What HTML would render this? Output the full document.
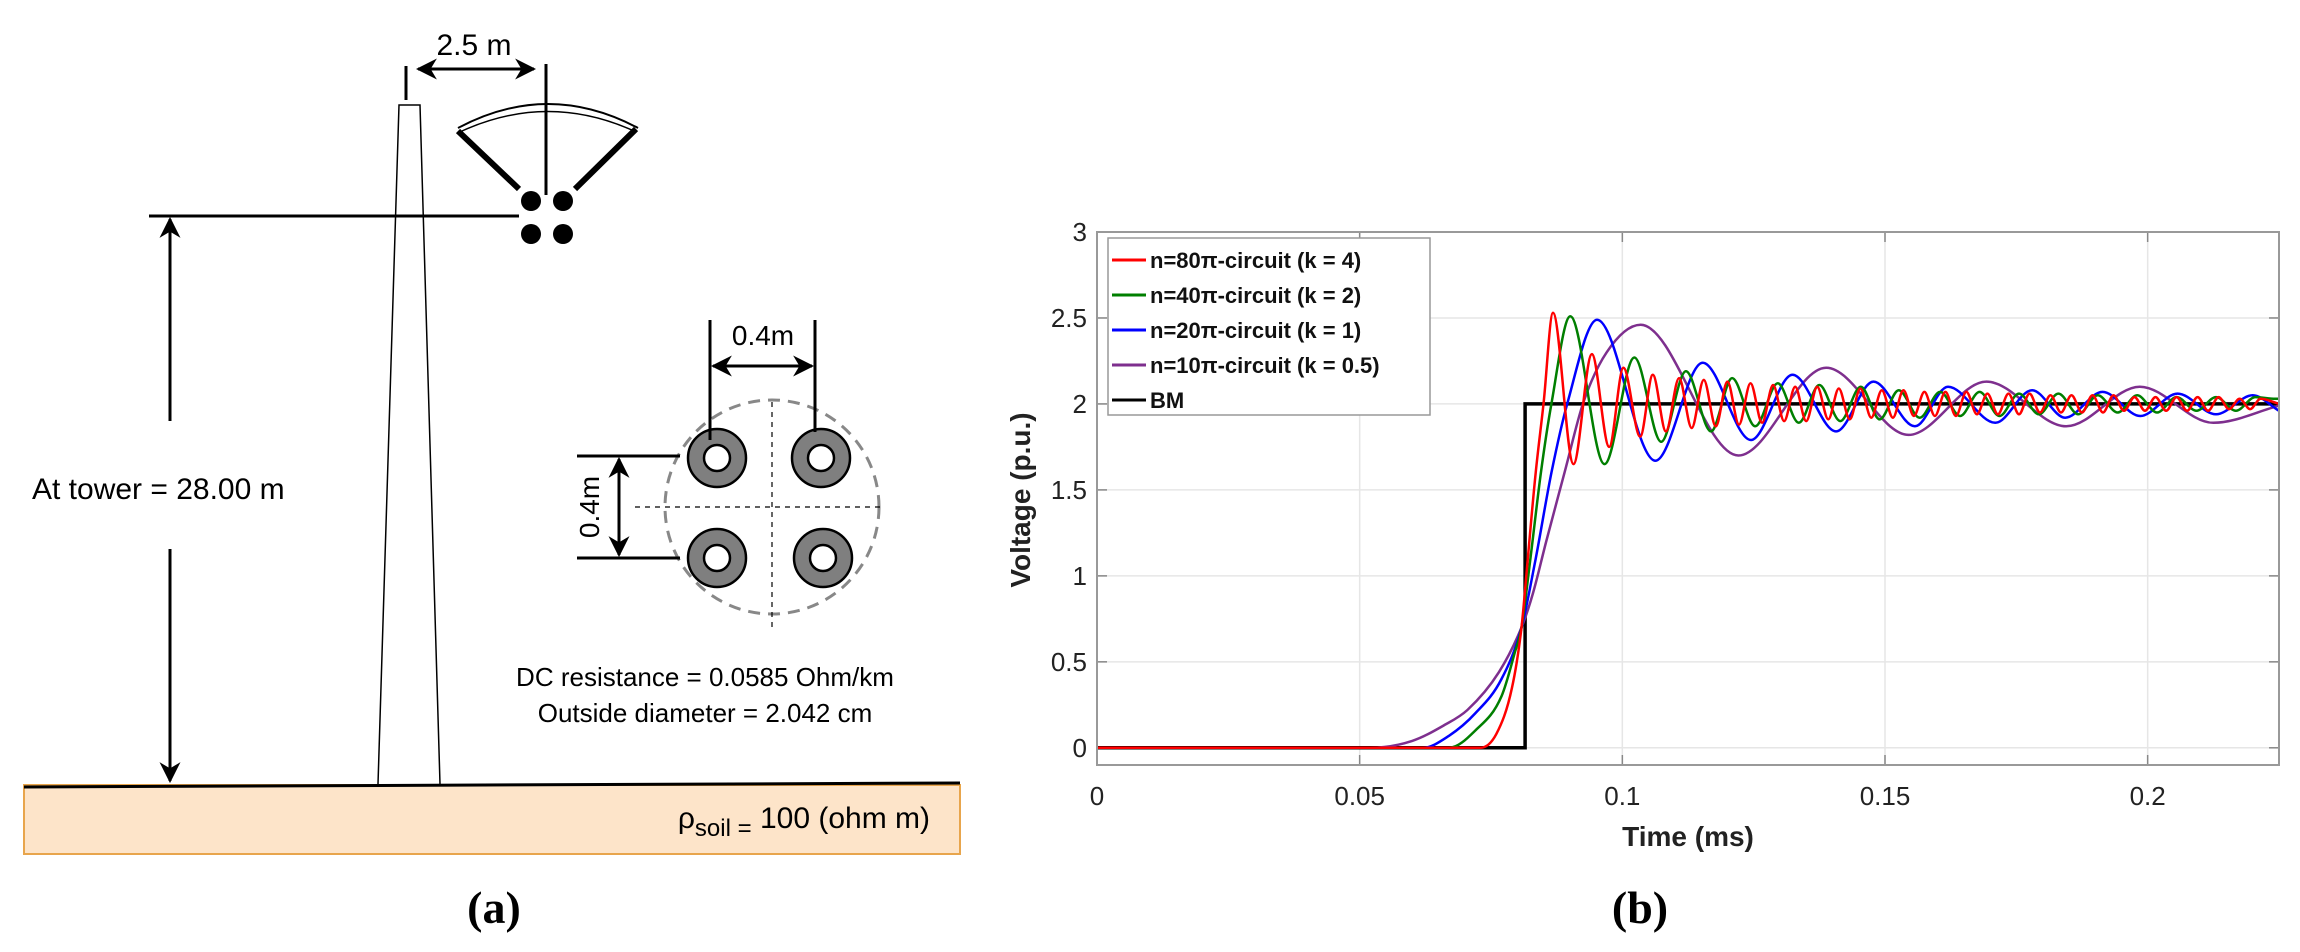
<!DOCTYPE html>
<html><head><meta charset="utf-8"><style>
html,body{margin:0;padding:0;background:#fff;}
svg{display:block;font-family:"Liberation Sans",sans-serif;}
</style></head><body>
<svg id="fig" width="2300" height="952" viewBox="0 0 2300 952">
<defs>
<marker id="ah" viewBox="0 0 10 10" refX="9" refY="5" markerWidth="7" markerHeight="7" orient="auto-start-reverse"><path d="M0,0 L10,5 L0,10 L3,5 z" fill="#000"/></marker>
</defs>
<g>
 <rect x="24" y="785" width="936" height="69" fill="#fde4c9" stroke="#e8a54c" stroke-width="2"/>
 <line x1="24" y1="787" x2="960" y2="783" stroke="#000" stroke-width="3"/>
 <text x="930" y="828" text-anchor="end" font-size="30">ρ<tspan font-size="24" dy="8">soil =</tspan><tspan dy="-8"> 100 (ohm m)</tspan></text>
 <path d="M378,784 L399,105 L420,105 L440,784" fill="none" stroke="#000" stroke-width="1.5"/>
 <line x1="406" y1="66" x2="406" y2="100" stroke="#000" stroke-width="3"/>
 <line x1="546" y1="64" x2="546" y2="195" stroke="#000" stroke-width="3"/>
 <line x1="418" y1="69" x2="534" y2="69" stroke="#000" stroke-width="3" marker-start="url(#ah)" marker-end="url(#ah)"/>
 <text x="474" y="55" text-anchor="middle" font-size="30">2.5 m</text>
 <path d="M458,128 Q548,80 638,128" fill="none" stroke="#000" stroke-width="2"/>
 <path d="M462,131 Q548,92 634,131" fill="none" stroke="#000" stroke-width="1.5"/>
 <line x1="458" y1="131" x2="519" y2="189" stroke="#000" stroke-width="6"/>
 <line x1="636" y1="129" x2="575" y2="189" stroke="#000" stroke-width="6"/>
 <g fill="#000">
  <circle cx="531" cy="201" r="10"/><circle cx="563" cy="201" r="10"/><circle cx="531" cy="234" r="10"/><circle cx="563" cy="234" r="10"/>
 </g>
 <line x1="149" y1="216" x2="519" y2="216" stroke="#000" stroke-width="3"/>
 <line x1="170" y1="421" x2="170" y2="219" stroke="#000" stroke-width="3" marker-end="url(#ah)"/>
 <line x1="170" y1="549" x2="170" y2="781" stroke="#000" stroke-width="3" marker-end="url(#ah)"/>
 <text x="32" y="499" font-size="30">At tower = 28.00 m</text>
 <circle cx="772" cy="507" r="107" fill="none" stroke="#888" stroke-width="3" stroke-dasharray="12,8"/>
 <line x1="772" y1="402" x2="772" y2="632" stroke="#000" stroke-width="1.2" stroke-dasharray="5,5"/>
 <line x1="635" y1="507" x2="880" y2="507" stroke="#000" stroke-width="1.2" stroke-dasharray="5,5"/>
 <g fill="#7f7f7f" stroke="#000" stroke-width="2.5">
  <circle cx="717" cy="458" r="29"/><circle cx="821" cy="458" r="29"/><circle cx="717" cy="558" r="29"/><circle cx="823" cy="558" r="29"/>
 </g>
 <g fill="#fff" stroke="#000" stroke-width="2.5">
  <circle cx="717" cy="458" r="13"/><circle cx="821" cy="458" r="13"/><circle cx="717" cy="558" r="13"/><circle cx="823" cy="558" r="13"/>
 </g>
 <line x1="710" y1="320" x2="710" y2="440" stroke="#000" stroke-width="3"/>
 <line x1="815" y1="320" x2="815" y2="432" stroke="#000" stroke-width="3"/>
 <line x1="713" y1="366" x2="812" y2="366" stroke="#000" stroke-width="3" marker-start="url(#ah)" marker-end="url(#ah)"/>
 <text x="763" y="345" text-anchor="middle" font-size="28">0.4m</text>
 <line x1="577" y1="456" x2="680" y2="456" stroke="#000" stroke-width="3"/>
 <line x1="577" y1="558" x2="680" y2="558" stroke="#000" stroke-width="3"/>
 <line x1="619" y1="459" x2="619" y2="555" stroke="#000" stroke-width="3" marker-start="url(#ah)" marker-end="url(#ah)"/>
 <text transform="translate(599,507) rotate(-90)" text-anchor="middle" font-size="28">0.4m</text>
 <text x="705" y="686" text-anchor="middle" font-size="26">DC resistance = 0.0585 Ohm/km</text>
 <text x="705" y="722" text-anchor="middle" font-size="26">Outside diameter = 2.042 cm</text>
 <text x="494" y="923" text-anchor="middle" font-size="46" font-weight="bold" font-family="Liberation Serif, serif">(a)</text>
</g>
<g id="chart"></g>
<text x="1640" y="923" text-anchor="middle" font-size="46" font-weight="bold" font-family="Liberation Serif, serif">(b)</text>
</svg>
<script>
const xTicks = [0, 0.05, 0.1, 0.15, 0.2];
const xTickLabels = ["0", "0.05", "0.1", "0.15", "0.2"];
const yTicks = [0, 0.5, 1, 1.5, 2, 2.5, 3];
const yTickLabels = ["0", "0.5", "1", "1.5", "2", "2.5", "3"];
const seriesNames = ["n=80\u03c0-circuit (k = 4)", "n=40\u03c0-circuit (k = 2)", "n=20\u03c0-circuit (k = 1)", "n=10\u03c0-circuit (k = 0.5)", "BM"];
const seriesColors = ["#ff0000", "#007f00", "#0000ff", "#7e2f8e", "#000000"];
const redPts = [[0,0],[.073,0],[.076,.08],[.079,.35],[.0808,.7],[.082,1.1],[.0835,1.6],[.085,2.0],[.0868,2.53],[.0907,1.65],[.0942,2.29],[.0975,1.75],[.1002,2.21],[.1034,1.81],[.1058,2.17],[.1083,1.84],[.1108,2.15],[.1132,1.86],[.1155,2.14],[.1178,1.87],[.12,2.13],[.1222,1.88],[.1244,2.12],[.1266,1.89],[.1287,2.11],[.1308,1.9],[.1329,2.1],[.135,1.9],[.1371,2.1],[.1392,1.91],[.1412,2.09],[.1433,1.91],[.1453,2.09],[.1474,1.92],[.1494,2.08],[.1515,1.92],[.1535,2.08],[.1555,1.93],[.1575,2.07],[.1595,1.93],[.1615,2.07],[.1635,1.93],[.1655,2.07],[.1675,1.94],[.1695,2.06],[.1715,1.94],[.1735,2.06],[.1755,1.94],[.1775,2.06],[.1795,1.95],[.1815,2.05],[.1835,1.95],[.1855,2.05],[.1875,1.95],[.1895,2.05],[.1915,1.95],[.1935,2.05],[.1955,1.96],[.1975,2.04],[.1995,1.96],[.2015,2.04],[.2035,1.96],[.2055,2.04],[.2075,1.96],[.2095,2.04],[.2115,1.96],[.2135,2.04],[.2155,1.97],[.2175,2.03],[.2195,1.97],[.2215,2.03],[.225,2.0]];
const greenPts = [[0,0],[.067,0],[.072,.1],[.077,.3],[.0795,.55],[.0808,.7],[.0825,1.1],[.0845,1.6],[.0865,2.0],[.0901,2.51],[.0966,1.65],[.1023,2.27],[.1074,1.78],[.1121,2.19],[.1169,1.84],[.1209,2.15],[.1253,1.87],[.1296,2.12],[.1336,1.89],[.1375,2.11],[.1415,1.9],[.1454,2.1],[.149,1.91],[.1526,2.08],[.1566,1.92],[.1605,2.07],[.1643,1.93],[.168,2.07],[.1718,1.93],[.1755,2.06],[.1793,1.94],[.183,2.06],[.1868,1.94],[.1905,2.05],[.1943,1.95],[.198,2.05],[.2018,1.95],[.2055,2.04],[.2093,1.96],[.213,2.04],[.2168,1.96],[.2205,2.04],[.2243,2.03],[.225,2.03]];
const bluePts = [[0,0],[.062,0],[.067,.07],[.072,.2],[.077,.4],[.0808,.7],[.0835,1.1],[.0865,1.6],[.0895,2.0],[.0952,2.49],[.1063,1.67],[.1153,2.24],[.1245,1.79],[.1324,2.17],[.1407,1.84],[.1478,2.13],[.1557,1.87],[.162,2.1],[.171,1.89],[.178,2.08],[.1843,1.92],[.1914,2.07],[.1986,1.93],[.2057,2.06],[.213,1.94],[.22,2.05],[.225,1.96]];
const purplePts = [[0,0],[.052,0],[.06,.04],[.066,.13],[.0705,.22],[.0765,.44],[.0808,.7],[.083,.9],[.0855,1.2],[.089,1.6],[.0925,2.0],[.097,2.3],[.1035,2.46],[.1221,1.7],[.1388,2.21],[.1545,1.82],[.1693,2.13],[.1845,1.87],[.1985,2.1],[.2125,1.89],[.225,1.99]];
const bmPts = [[0,0],[.0815,0],[.0815,2],[.225,2]];

const NS = "http://www.w3.org/2000/svg";
const L = 1097, R = 2279, T = 232, B = 765;
const xMin = 0, xMax = 0.225, yMin = -0.1, yMax = 3;
function xs(t){ return L + (t - xMin) / (xMax - xMin) * (R - L); }
function ys(v){ return B - (v - yMin) / (yMax - yMin) * (B - T); }
const chart = document.getElementById('chart');
function mk(tag, attrs, parent){ const e = document.createElementNS(NS, tag); for (const k in attrs) e.setAttribute(k, attrs[k]); (parent||chart).appendChild(e); return e; }

mk('rect', {x:L, y:T, width:R-L, height:B-T, fill:'#fff'});
xTicks.forEach((t,i) => {
  const g = mk('line', {x1:xs(t), y1:T, x2:xs(t), y2:B, stroke:'#e6e6e6', 'stroke-width':1.5});
  
  
  mk('line', {x1:xs(t), y1:B, x2:xs(t), y2:B-10, stroke:'#888', 'stroke-width':1.5});
  mk('line', {x1:xs(t), y1:T, x2:xs(t), y2:T+10, stroke:'#888', 'stroke-width':1.5});
  const lb = mk('text', {x:xs(t), y:805, 'text-anchor':'middle', 'font-size':26, fill:'#222'});
  lb.textContent = xTickLabels[i];
  
  
});
yTicks.forEach((v,i) => {
  const g = mk('line', {x1:L, y1:ys(v), x2:R, y2:ys(v), stroke:'#e6e6e6', 'stroke-width':1.5});
  
  
  mk('line', {x1:L, y1:ys(v), x2:L+10, y2:ys(v), stroke:'#888', 'stroke-width':1.5});
  mk('line', {x1:R, y1:ys(v), x2:R-10, y2:ys(v), stroke:'#888', 'stroke-width':1.5});
  const lb = mk('text', {x:1087, y:ys(v)+9, 'text-anchor':'end', 'font-size':26, fill:'#222'});
  lb.textContent = yTickLabels[i];
  
  
});

function monoPath(pts){
  const P = pts.map(p => [xs(p[0]), ys(p[1])]);
  const n = P.length; const d = [], m = new Array(n).fill(0);
  for (let i=0;i<n-1;i++){ const h = P[i+1][0]-P[i][0]; d.push(h===0?0:(P[i+1][1]-P[i][1])/h); }
  for (let i=1;i<n-1;i++){ m[i] = (d[i-1]*d[i] <= 0) ? 0 : (d[i-1]+d[i])/2; }
  m[0] = d[0]; m[n-1] = d[n-2];
  for (let i=0;i<n-1;i++){ if (d[i]===0){ m[i]=0; m[i+1]=0; continue; } const a=m[i]/d[i], b=m[i+1]/d[i], s=a*a+b*b; if (s>9){ const tt=3/Math.sqrt(s); m[i]=tt*a*d[i]; m[i+1]=tt*b*d[i]; } }
  let s = 'M' + P[0][0].toFixed(1) + ',' + P[0][1].toFixed(1);
  for (let i=0;i<n-1;i++){ const h=(P[i+1][0]-P[i][0])/3;
    if (h===0){ s += ' L' + P[i+1][0].toFixed(1) + ',' + P[i+1][1].toFixed(1); continue; }
    s += ' C' + (P[i][0]+h).toFixed(1) + ',' + (P[i][1]+m[i]*h).toFixed(1) + ' ' + (P[i+1][0]-h).toFixed(1) + ',' + (P[i+1][1]-m[i+1]*h).toFixed(1) + ' ' + P[i+1][0].toFixed(1) + ',' + P[i+1][1].toFixed(1); }
  return s;
}
const bm = mk('path', {d: bmPts.map((p,i)=>(i?'L':'M')+xs(p[0]).toFixed(1)+','+ys(p[1]).toFixed(1)).join(' '), fill:'none', stroke:'#000', 'stroke-width':3.5});


const allPts = [redPts, greenPts, bluePts, purplePts];
const seriesKeys = ['series-red-k4', 'series-green-k2', 'series-blue-k1', 'series-purple-k05'];
[3,2,1,0].forEach(i => {
  const p = mk('path', {d: monoPath(allPts[i]), fill:'none', stroke:seriesColors[i], 'stroke-width':2.5, 'stroke-linejoin':'round'});
  
  
});
mk('rect', {x:L, y:T, width:R-L, height:B-T, fill:'none', stroke:'#999', 'stroke-width':2});

const leg = mk('g', {});


mk('rect', {x:1108, y:238, width:322, height:177, fill:'#fff', stroke:'#999', 'stroke-width':1.5}, leg);
seriesNames.forEach((nm,i) => {
  const y = 260 + i*35;
  const e = mk('g', {}, leg);
  
  
  mk('line', {x1:1112, y1:y, x2:1146, y2:y, stroke:seriesColors[i], 'stroke-width':3}, e);
  const t = mk('text', {x:1150, y:y+8, 'font-size':22, 'font-weight':'bold', fill:'#111'}, e);
  t.textContent = nm;
});
const xt = mk('text', {x:1688, y:846, 'text-anchor':'middle', 'font-size':28, 'font-weight':'bold', fill:'#222'});
xt.textContent = 'Time (ms)';


const yt = mk('text', {transform:'translate(1030,500) rotate(-90)', 'text-anchor':'middle', 'font-size':28, 'font-weight':'bold', fill:'#222'});
yt.textContent = 'Voltage (p.u.)';


</script>
</body></html>
